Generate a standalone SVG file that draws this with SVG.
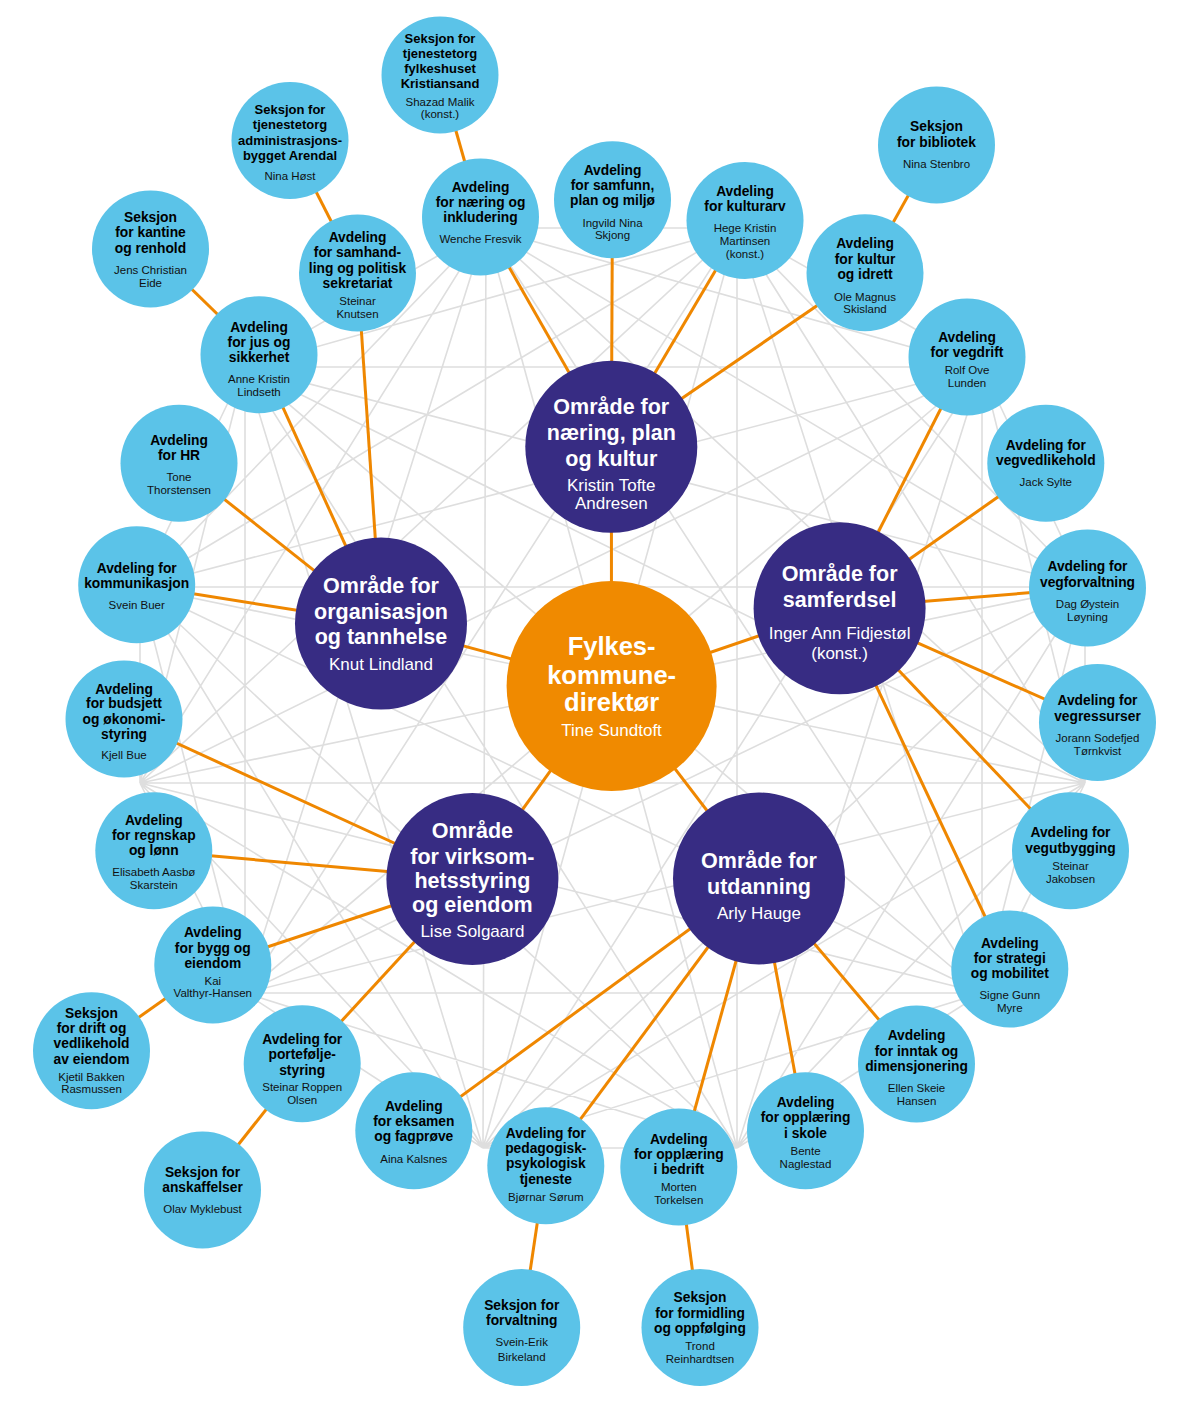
<svg xmlns="http://www.w3.org/2000/svg" width="1200" height="1410" viewBox="0 0 1200 1410">
<style>
.web{stroke:#dedede;stroke-width:1.6;fill:none}
.edge{stroke:#ef8700;stroke-width:3;fill:none}
.b{fill:#5bc3e8}
.p{fill:#372c83}
.o{fill:#f08a00}
text{font-family:"Liberation Sans",Arial,Helvetica,sans-serif;text-anchor:middle}
.bt{font-weight:bold;font-size:13.8px;fill:#000}
.bs{font-weight:bold;font-size:13px;fill:#000}
.bn{font-size:11.5px;fill:#111}
.pt{font-weight:bold;font-size:21.5px;fill:#fff}
.pn{font-size:17px;fill:#fff}
.ct{font-weight:bold;font-size:25.5px;fill:#fff}
</style>
<rect width="1200" height="1410" fill="#fff"/>
<g id="web">
<path class="web" d="M486 228L737 228M486 228L982 367M486 228L1085 587M486 228L1085 783M486 228L982 993M486 228L737 1148M486 228L483 1148M486 228L245 993M486 228L140 783M486 228L140 587M486 228L245 367
M737 228L982 367M737 228L1085 587M737 228L1085 783M737 228L982 993M737 228L737 1148M737 228L483 1148M737 228L245 993M737 228L140 783M737 228L140 587M737 228L245 367
M982 367L1085 587M982 367L1085 783M982 367L982 993M982 367L737 1148M982 367L483 1148M982 367L245 993M982 367L140 783M982 367L140 587M982 367L245 367
M1085 587L1085 783M1085 587L982 993M1085 587L737 1148M1085 587L483 1148M1085 587L245 993M1085 587L140 783M1085 587L140 587M1085 587L245 367
M1085 783L982 993M1085 783L737 1148M1085 783L483 1148M1085 783L245 993M1085 783L140 783M1085 783L140 587M1085 783L245 367
M982 993L737 1148M982 993L483 1148M982 993L245 993M982 993L140 783M982 993L140 587M982 993L245 367
M737 1148L483 1148M737 1148L245 993M737 1148L140 783M737 1148L140 587M737 1148L245 367
M483 1148L245 993M483 1148L140 783M483 1148L140 587M483 1148L245 367
M245 993L140 783M245 993L140 587M245 993L245 367
M140 783L140 587M140 783L245 367M140 587L245 367"/>
</g>
<g id="connectors" class="edge">
<line x1="611.6" y1="686" x2="611.3" y2="446.8"/>
<line x1="611.6" y1="686" x2="839.6" y2="608.3"/>
<line x1="611.6" y1="686" x2="381" y2="623.6"/>
<line x1="611.6" y1="686" x2="472.4" y2="879"/>
<line x1="611.6" y1="686" x2="759" y2="878.5"/>
<line x1="611.3" y1="446.8" x2="480.5" y2="217"/>
<line x1="611.3" y1="446.8" x2="612.5" y2="199.7"/>
<line x1="611.3" y1="446.8" x2="745" y2="220.5"/>
<line x1="611.3" y1="446.8" x2="865" y2="272.8"/>
<line x1="839.6" y1="608.3" x2="967" y2="357"/>
<line x1="839.6" y1="608.3" x2="1045.8" y2="463.3"/>
<line x1="839.6" y1="608.3" x2="1087.5" y2="588"/>
<line x1="839.6" y1="608.3" x2="1097.5" y2="722.5"/>
<line x1="839.6" y1="608.3" x2="1070.5" y2="850.8"/>
<line x1="839.6" y1="608.3" x2="1009.8" y2="969"/>
<line x1="381" y1="623.6" x2="357.5" y2="273"/>
<line x1="381" y1="623.6" x2="259" y2="354.7"/>
<line x1="381" y1="623.6" x2="179" y2="463.3"/>
<line x1="381" y1="623.6" x2="136.7" y2="584.8"/>
<line x1="472.4" y1="879" x2="124" y2="719"/>
<line x1="472.4" y1="879" x2="153.8" y2="850.8"/>
<line x1="472.4" y1="879" x2="212.8" y2="965"/>
<line x1="472.4" y1="879" x2="302.2" y2="1063.8"/>
<line x1="759" y1="878.5" x2="413.8" y2="1130.8"/>
<line x1="759" y1="878.5" x2="545.8" y2="1165.8"/>
<line x1="759" y1="878.5" x2="678.8" y2="1167"/>
<line x1="759" y1="878.5" x2="805.5" y2="1130.8"/>
<line x1="759" y1="878.5" x2="916.5" y2="1064"/>
<line x1="480.5" y1="217" x2="440" y2="75"/>
<line x1="357.5" y1="273" x2="290" y2="140.5"/>
<line x1="259" y1="354.7" x2="150.5" y2="249"/>
<line x1="865" y1="272.8" x2="936.5" y2="145"/>
<line x1="212.8" y1="965" x2="91.5" y2="1050.8"/>
<line x1="302.2" y1="1063.8" x2="202.5" y2="1190"/>
<line x1="545.8" y1="1165.8" x2="521.7" y2="1327.5"/>
<line x1="678.8" y1="1167" x2="700" y2="1327.5"/>
</g>
<g id="fylkeskommunedirektor">
<circle class="o" cx="611.6" cy="686" r="105"/>
<text class="ct"><tspan x="611.6" y="654.5">Fylkes-</tspan><tspan x="611.6" y="683.5">kommune-</tspan><tspan x="611.6" y="711">direktør</tspan></text>
<text class="pn" x="611.6" y="736">Tine Sundtoft</text>
</g>
<g id="omrade-naering">
<circle class="p" cx="611.3" cy="446.8" r="86"/>
<text class="pt"><tspan x="611.3" y="414">Område for</tspan><tspan x="611.3" y="440">næring, plan</tspan><tspan x="611.3" y="465.5">og kultur</tspan></text>
<text class="pn"><tspan x="611.3" y="491">Kristin Tofte</tspan><tspan x="611.3" y="509">Andresen</tspan></text>
</g>
<g id="omrade-samferdsel">
<circle class="p" cx="839.6" cy="608.3" r="86"/>
<text class="pt"><tspan x="839.6" y="580.5">Område for</tspan><tspan x="839.6" y="606.5">samferdsel</tspan></text>
<text class="pn"><tspan x="839.6" y="638.5">Inger Ann Fidjestøl</tspan><tspan x="839.6" y="658.5">(konst.)</tspan></text>
</g>
<g id="omrade-organisasjon">
<circle class="p" cx="381" cy="623.6" r="86"/>
<text class="pt"><tspan x="381" y="593">Område for</tspan><tspan x="381" y="619">organisasjon</tspan><tspan x="381" y="644">og tannhelse</tspan></text>
<text class="pn" x="381" y="670">Knut Lindland</text>
</g>
<g id="omrade-virksomhetsstyring">
<circle class="p" cx="472.4" cy="879" r="86"/>
<text class="pt"><tspan x="472.4" y="838">Område</tspan><tspan x="472.4" y="863.5">for virksom-</tspan><tspan x="472.4" y="887.5">hetsstyring</tspan><tspan x="472.4" y="911.7">og eiendom</tspan></text>
<text class="pn" x="472.4" y="937">Lise Solgaard</text>
</g>
<g id="omrade-utdanning">
<circle class="p" cx="759" cy="878.5" r="86"/>
<text class="pt"><tspan x="759" y="867.5">Område for</tspan><tspan x="759" y="893.5">utdanning</tspan></text>
<text class="pn" x="759" y="918.5">Arly Hauge</text>
</g>
<g id="seksjon-tjenestetorg-kristiansand">
<circle class="b" cx="440" cy="75" r="58.5"/>
<text class="bs"><tspan x="440" y="42.8">Seksjon for</tspan><tspan x="440" y="57.8">tjenestetorg</tspan><tspan x="440" y="72.8">fylkeshuset</tspan><tspan x="440" y="87.8">Kristiansand</tspan></text>
<text class="bn"><tspan x="440" y="105.7">Shazad Malik</tspan><tspan x="440" y="118.3">(konst.)</tspan></text>
</g>
<g id="seksjon-tjenestetorg-arendal">
<circle class="b" cx="290" cy="140.5" r="58.5"/>
<text class="bs"><tspan x="290" y="113.8">Seksjon for</tspan><tspan x="290" y="128.8">tjenestetorg</tspan><tspan x="290" y="144.5">administrasjons-</tspan><tspan x="290" y="159.5">bygget Arendal</tspan></text>
<text class="bn" x="290" y="179.7">Nina Høst</text>
</g>
<g id="seksjon-kantine">
<circle class="b" cx="150.5" cy="249" r="58.5"/>
<text class="bt"><tspan x="150.5" y="222.2">Seksjon</tspan><tspan x="150.5" y="237.2">for kantine</tspan><tspan x="150.5" y="252.8">og renhold</tspan></text>
<text class="bn"><tspan x="150.5" y="274">Jens Christian</tspan><tspan x="150.5" y="286.7">Eide</tspan></text>
</g>
<g id="avd-naering-inkludering">
<circle class="b" cx="480.5" cy="217" r="58.5"/>
<text class="bt"><tspan x="480.5" y="191.8">Avdeling</tspan><tspan x="480.5" y="206.8">for næring og</tspan><tspan x="480.5" y="222.2">inkludering</tspan></text>
<text class="bn" x="480.5" y="243.3">Wenche Fresvik</text>
</g>
<g id="avd-samhandling">
<circle class="b" cx="357.5" cy="273" r="58.5"/>
<text class="bt"><tspan x="357.5" y="242.2">Avdeling</tspan><tspan x="357.5" y="257.2">for samhand-</tspan><tspan x="357.5" y="272.8">ling og politisk</tspan><tspan x="357.5" y="287.8">sekretariat</tspan></text>
<text class="bn"><tspan x="357.5" y="305">Steinar</tspan><tspan x="357.5" y="318">Knutsen</tspan></text>
</g>
<g id="avd-jus">
<circle class="b" cx="259" cy="354.7" r="58.5"/>
<text class="bt"><tspan x="259" y="331.8">Avdeling</tspan><tspan x="259" y="346.8">for jus og</tspan><tspan x="259" y="362.2">sikkerhet</tspan></text>
<text class="bn"><tspan x="259" y="383.3">Anne Kristin</tspan><tspan x="259" y="396.3">Lindseth</tspan></text>
</g>
<g id="avd-samfunn">
<circle class="b" cx="612.5" cy="199.7" r="58.5"/>
<text class="bt"><tspan x="612.5" y="174.5">Avdeling</tspan><tspan x="612.5" y="189.5">for samfunn,</tspan><tspan x="612.5" y="204.5">plan og miljø</tspan></text>
<text class="bn"><tspan x="612.5" y="226.7">Ingvild Nina</tspan><tspan x="612.5" y="239">Skjong</tspan></text>
</g>
<g id="avd-kulturarv">
<circle class="b" cx="745" cy="220.5" r="58.5"/>
<text class="bt"><tspan x="745" y="195.5">Avdeling</tspan><tspan x="745" y="210.5">for kulturarv</tspan></text>
<text class="bn"><tspan x="745" y="232.3">Hege Kristin</tspan><tspan x="745" y="245.3">Martinsen</tspan><tspan x="745" y="258">(konst.)</tspan></text>
</g>
<g id="seksjon-bibliotek">
<circle class="b" cx="936.5" cy="145" r="58.5"/>
<text class="bt"><tspan x="936.5" y="131.2">Seksjon</tspan><tspan x="936.5" y="146.8">for bibliotek</tspan></text>
<text class="bn" x="936.5" y="168.3">Nina Stenbro</text>
</g>
<g id="avd-kultur-idrett">
<circle class="b" cx="865" cy="272.8" r="58.5"/>
<text class="bt"><tspan x="865" y="247.8">Avdeling</tspan><tspan x="865" y="263.5">for kultur</tspan><tspan x="865" y="278.8">og idrett</tspan></text>
<text class="bn"><tspan x="865" y="300.7">Ole Magnus</tspan><tspan x="865" y="313.3">Skisland</tspan></text>
</g>
<g id="avd-vegdrift">
<circle class="b" cx="967" cy="357" r="58.5"/>
<text class="bt"><tspan x="967" y="341.5">Avdeling</tspan><tspan x="967" y="356.8">for vegdrift</tspan></text>
<text class="bn"><tspan x="967" y="374">Rolf Ove</tspan><tspan x="967" y="386.7">Lunden</tspan></text>
</g>
<g id="avd-vegvedlikehold">
<circle class="b" cx="1045.8" cy="463.3" r="58.5"/>
<text class="bt"><tspan x="1045.8" y="449.5">Avdeling for</tspan><tspan x="1045.8" y="464.8">vegvedlikehold</tspan></text>
<text class="bn" x="1045.8" y="486.3">Jack Sylte</text>
</g>
<g id="avd-vegforvaltning">
<circle class="b" cx="1087.5" cy="588" r="58.5"/>
<text class="bt"><tspan x="1087.5" y="571.2">Avdeling for</tspan><tspan x="1087.5" y="586.5">vegforvaltning</tspan></text>
<text class="bn"><tspan x="1087.5" y="608">Dag Øystein</tspan><tspan x="1087.5" y="620.7">Løyning</tspan></text>
</g>
<g id="avd-vegressurser">
<circle class="b" cx="1097.5" cy="722.5" r="58.5"/>
<text class="bt"><tspan x="1097.5" y="705.2">Avdeling for</tspan><tspan x="1097.5" y="720.5">vegressurser</tspan></text>
<text class="bn"><tspan x="1097.5" y="742.3">Jorann Sodefjed</tspan><tspan x="1097.5" y="755">Tørnkvist</tspan></text>
</g>
<g id="avd-vegutbygging">
<circle class="b" cx="1070.5" cy="850.8" r="58.5"/>
<text class="bt"><tspan x="1070.5" y="836.8">Avdeling for</tspan><tspan x="1070.5" y="852.8">vegutbygging</tspan></text>
<text class="bn"><tspan x="1070.5" y="870">Steinar</tspan><tspan x="1070.5" y="882.7">Jakobsen</tspan></text>
</g>
<g id="avd-strategi">
<circle class="b" cx="1009.8" cy="969" r="58.5"/>
<text class="bt"><tspan x="1009.8" y="947.8">Avdeling</tspan><tspan x="1009.8" y="962.8">for strategi</tspan><tspan x="1009.8" y="978.2">og mobilitet</tspan></text>
<text class="bn"><tspan x="1009.8" y="999.3">Signe Gunn</tspan><tspan x="1009.8" y="1012.3">Myre</tspan></text>
</g>
<g id="avd-inntak">
<circle class="b" cx="916.5" cy="1064" r="58.5"/>
<text class="bt"><tspan x="916.5" y="1040.2">Avdeling</tspan><tspan x="916.5" y="1055.5">for inntak og</tspan><tspan x="916.5" y="1070.5">dimensjonering</tspan></text>
<text class="bn"><tspan x="916.5" y="1091.7">Ellen Skeie</tspan><tspan x="916.5" y="1104.7">Hansen</tspan></text>
</g>
<g id="avd-opplaering-skole">
<circle class="b" cx="805.5" cy="1130.8" r="58.5"/>
<text class="bt"><tspan x="805.5" y="1106.8">Avdeling</tspan><tspan x="805.5" y="1122.2">for opplæring</tspan><tspan x="805.5" y="1137.5">i skole</tspan></text>
<text class="bn"><tspan x="805.5" y="1154.7">Bente</tspan><tspan x="805.5" y="1168">Naglestad</tspan></text>
</g>
<g id="avd-opplaering-bedrift">
<circle class="b" cx="678.8" cy="1167" r="58.5"/>
<text class="bt"><tspan x="678.8" y="1143.5">Avdeling</tspan><tspan x="678.8" y="1158.8">for opplæring</tspan><tspan x="678.8" y="1174.2">i bedrift</tspan></text>
<text class="bn"><tspan x="678.8" y="1191.3">Morten</tspan><tspan x="678.8" y="1204.3">Torkelsen</tspan></text>
</g>
<g id="seksjon-formidling">
<circle class="b" cx="700" cy="1327.5" r="58.5"/>
<text class="bt"><tspan x="700" y="1302.2">Seksjon</tspan><tspan x="700" y="1317.8">for formidling</tspan><tspan x="700" y="1332.8">og oppfølging</tspan></text>
<text class="bn"><tspan x="700" y="1350">Trond</tspan><tspan x="700" y="1363">Reinhardtsen</tspan></text>
</g>
<g id="avd-ppt">
<circle class="b" cx="545.8" cy="1165.8" r="58.5"/>
<text class="bt"><tspan x="545.8" y="1137.8">Avdeling for</tspan><tspan x="545.8" y="1152.8">pedagogisk-</tspan><tspan x="545.8" y="1168.2">psykologisk</tspan><tspan x="545.8" y="1183.5">tjeneste</tspan></text>
<text class="bn" x="545.8" y="1200.7">Bjørnar Sørum</text>
</g>
<g id="seksjon-forvaltning">
<circle class="b" cx="521.7" cy="1327.5" r="58.5"/>
<text class="bt"><tspan x="521.7" y="1309.5">Seksjon for</tspan><tspan x="521.7" y="1324.5">forvaltning</tspan></text>
<text class="bn"><tspan x="521.7" y="1346.3">Svein-Erik</tspan><tspan x="521.7" y="1360.7">Birkeland</tspan></text>
</g>
<g id="avd-eksamen">
<circle class="b" cx="413.8" cy="1130.8" r="58.5"/>
<text class="bt"><tspan x="413.8" y="1110.5">Avdeling</tspan><tspan x="413.8" y="1125.8">for eksamen</tspan><tspan x="413.8" y="1141.2">og fagprøve</tspan></text>
<text class="bn" x="413.8" y="1163">Aina Kalsnes</text>
</g>
<g id="avd-portefolje">
<circle class="b" cx="302.2" cy="1063.8" r="58.5"/>
<text class="bt"><tspan x="302.2" y="1043.5">Avdeling for</tspan><tspan x="302.2" y="1058.8">portefølje-</tspan><tspan x="302.2" y="1074.5">styring</tspan></text>
<text class="bn"><tspan x="302.2" y="1091.3">Steinar Roppen</tspan><tspan x="302.2" y="1104">Olsen</tspan></text>
</g>
<g id="seksjon-anskaffelser">
<circle class="b" cx="202.5" cy="1190" r="58.5"/>
<text class="bt"><tspan x="202.5" y="1176.8">Seksjon for</tspan><tspan x="202.5" y="1191.8">anskaffelser</tspan></text>
<text class="bn" x="202.5" y="1213.3">Olav Myklebust</text>
</g>
<g id="avd-bygg-eiendom">
<circle class="b" cx="212.8" cy="965" r="58.5"/>
<text class="bt"><tspan x="212.8" y="937.2">Avdeling</tspan><tspan x="212.8" y="952.5">for bygg og</tspan><tspan x="212.8" y="967.5">eiendom</tspan></text>
<text class="bn"><tspan x="212.8" y="984.7">Kai</tspan><tspan x="212.8" y="997.3">Valthyr-Hansen</tspan></text>
</g>
<g id="seksjon-drift-vedlikehold">
<circle class="b" cx="91.5" cy="1050.8" r="58.5"/>
<text class="bt"><tspan x="91.5" y="1017.8">Seksjon</tspan><tspan x="91.5" y="1033.2">for drift og</tspan><tspan x="91.5" y="1048.2">vedlikehold</tspan><tspan x="91.5" y="1063.5">av eiendom</tspan></text>
<text class="bn"><tspan x="91.5" y="1080.7">Kjetil Bakken</tspan><tspan x="91.5" y="1093.3">Rasmussen</tspan></text>
</g>
<g id="avd-regnskap">
<circle class="b" cx="153.8" cy="850.8" r="58.5"/>
<text class="bt"><tspan x="153.8" y="824.5">Avdeling</tspan><tspan x="153.8" y="839.8">for regnskap</tspan><tspan x="153.8" y="855.2">og lønn</tspan></text>
<text class="bn"><tspan x="153.8" y="876.3">Elisabeth Aasbø</tspan><tspan x="153.8" y="889.3">Skarstein</tspan></text>
</g>
<g id="avd-budsjett">
<circle class="b" cx="124" cy="719" r="58.5"/>
<text class="bt"><tspan x="124" y="693.5">Avdeling</tspan><tspan x="124" y="708.2">for budsjett</tspan><tspan x="124" y="723.5">og økonomi-</tspan><tspan x="124" y="738.5">styring</tspan></text>
<text class="bn" x="124" y="759">Kjell Bue</text>
</g>
<g id="avd-kommunikasjon">
<circle class="b" cx="136.7" cy="584.8" r="58.5"/>
<text class="bt"><tspan x="136.7" y="572.8">Avdeling for</tspan><tspan x="136.7" y="587.8">kommunikasjon</tspan></text>
<text class="bn" x="136.7" y="609.3">Svein Buer</text>
</g>
<g id="avd-hr">
<circle class="b" cx="179" cy="463.3" r="58.5"/>
<text class="bt"><tspan x="179" y="444.5">Avdeling</tspan><tspan x="179" y="459.5">for HR</tspan></text>
<text class="bn"><tspan x="179" y="481.3">Tone</tspan><tspan x="179" y="494">Thorstensen</tspan></text>
</g>
</svg>
